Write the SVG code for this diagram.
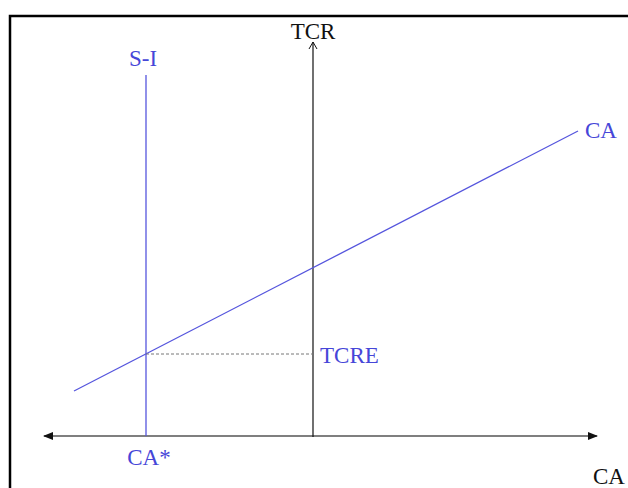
<svg xmlns="http://www.w3.org/2000/svg" width="628" height="488" viewBox="0 0 628 488">
<style>
.t{font-family:"Liberation Serif","Times New Roman",serif;font-size:23px}
.b{fill:#4646d8}
.k{fill:#111}
.bl{stroke:#5555dd;stroke-width:1.3;fill:none}
</style>
<defs>
<marker id="tri" viewBox="0 0 10 10" refX="9" refY="5" markerWidth="10" markerHeight="10" markerUnits="userSpaceOnUse" orient="auto-start-reverse">
<path d="M0,1 L10,5 L0,9 Z" fill="#111"/>
</marker>
<marker id="open" viewBox="0 0 10 10" refX="5" refY="1" markerWidth="10" markerHeight="10" markerUnits="userSpaceOnUse" orient="0">
<path d="M1,8 L5,1 L9,8" fill="none" stroke="#111" stroke-width="1"/>
</marker>
</defs>
<rect width="628" height="488" fill="#fff"/>
<path d="M10,488 V16 H628" fill="none" stroke="#000" stroke-width="2.5"/>
<g id="connectors">
<line x1="44" y1="436" x2="597" y2="436" stroke="#555" stroke-width="1.5" marker-start="url(#tri)" marker-end="url(#tri)"/>
<line x1="313" y1="437" x2="313" y2="42" stroke="#111" stroke-width="1.2" marker-end="url(#open)"/>
<line x1="146" y1="75" x2="146" y2="436" class="bl"/>
<line x1="74" y1="391" x2="578" y2="131" class="bl"/>
<line x1="146" y1="354" x2="313" y2="354" stroke="#777" stroke-width="1" stroke-dasharray="3,2"/>
</g>
<g id="label-tcr"><text class="t k" x="313" y="39" text-anchor="middle">TCR</text></g>
<g id="label-si"><text class="t b" x="143" y="66" text-anchor="middle">S-I</text></g>
<g id="label-ca-line"><text class="t b" x="585" y="138">CA</text></g>
<g id="label-tcre"><text class="t b" x="320" y="363">TCRE</text></g>
<g id="label-castar"><text class="t b" x="149" y="465" text-anchor="middle">CA*</text></g>
<g id="label-ca-axis"><text class="t k" x="593" y="484">CA</text></g>
</svg>
